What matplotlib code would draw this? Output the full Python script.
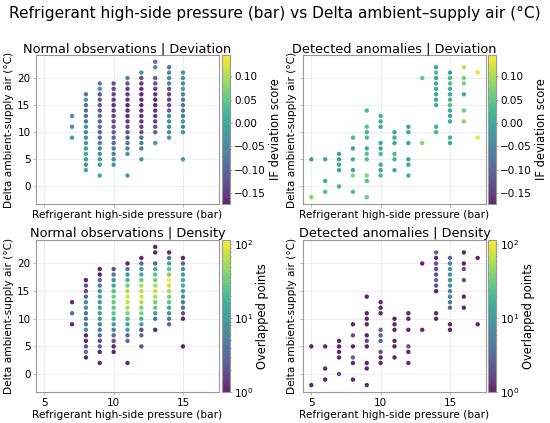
import numpy as np
import matplotlib
matplotlib.use("Agg")
import matplotlib.pyplot as plt
from matplotlib.colors import LogNorm, Normalize
from matplotlib.ticker import MultipleLocator

# ----------------------------
# Data (pressure column -> values, top to bottom)
# ----------------------------
normal_y = {
    7: [13, 11, 9],
    8: [17, 16, 15, 14, 13, 12, 11, 10, 9, 8, 7, 6, 5, 4, 3],
    9: [19, 18, 17, 16, 15, 14, 13, 12, 11, 10, 9, 8, 7, 6, 5, 4, 2],
    10: [19, 18, 17, 16, 15, 14, 13, 12, 11, 10, 9, 8, 7, 6, 5, 4],
    11: [20, 19, 18, 17, 16, 15, 14, 13, 12, 11, 10, 9, 8, 7, 6, 2],
    12: [21, 20, 19, 18, 17, 16, 15, 14, 13, 12, 11, 10, 9, 8, 7, 5],
    13: [23, 22, 20, 19, 18, 17, 16, 15, 14, 13, 12, 11, 10, 8],
    14: [22, 21, 20, 19, 18, 17, 16, 15, 14, 13, 12, 11, 10, 9],
    15: [21, 20, 19, 18, 17, 16, 15, 14, 13, 12, 11, 10, 5],
}
normal_score = {
    7: [-0.03, -0.06, -0.02],
    8: [-0.08, -0.03, -0.08, -0.09, -0.09, -0.07, -0.03, -0.04, -0.03, -0.02, -0.01, 0.0, -0.01, -0.03, 0.0],
    9: [-0.06, -0.03, -0.12, -0.11, -0.11, -0.11, -0.10, -0.10, -0.09, -0.10, -0.09, -0.07, -0.05, -0.03, -0.03, -0.02, 0.0],
    10: [-0.12, -0.13, -0.14, -0.15, -0.16, -0.15, -0.14, -0.13, -0.12, -0.11, -0.10, -0.09, -0.07, -0.05, -0.04, -0.03],
    11: [-0.05, -0.12, -0.14, -0.15, -0.16, -0.17, -0.17, -0.16, -0.15, -0.13, -0.12, -0.11, -0.07, -0.05, -0.03, -0.01],
    12: [-0.03, -0.13, -0.15, -0.16, -0.17, -0.17, -0.17, -0.16, -0.16, -0.15, -0.14, -0.12, -0.09, -0.06, -0.08, -0.04],
    13: [-0.08, -0.04, -0.11, -0.12, -0.14, -0.16, -0.17, -0.17, -0.16, -0.15, -0.14, -0.12, -0.10, -0.02],
    14: [-0.07, -0.05, -0.05, -0.06, -0.11, -0.14, -0.14, -0.13, -0.11, -0.05, -0.03, -0.05, -0.04, -0.03],
    15: [-0.03, -0.03, -0.04, -0.01, -0.06, -0.08, -0.08, -0.08, -0.07, -0.01, -0.05, -0.03, -0.02],
}
normal_count = {
    7: [1, 3, 1],
    8: [1, 2, 2, 3, 7, 7, 4, 4, 4, 6, 1, 1, 2, 4, 1],
    9: [1, 1, 3, 5, 9, 12, 10, 12, 10, 9, 6, 4, 3, 2, 3, 1, 1],
    10: [2, 4, 8, 14, 25, 35, 30, 30, 28, 18, 10, 5, 3, 2, 1, 1],
    11: [1, 4, 9, 18, 35, 60, 80, 65, 60, 40, 22, 12, 10, 3, 3, 1],
    12: [1, 3, 9, 16, 30, 55, 65, 80, 60, 40, 35, 20, 10, 2, 3, 2],
    13: [1, 1, 3, 15, 25, 35, 60, 70, 60, 35, 30, 10, 4, 1],
    14: [1, 3, 10, 25, 35, 110, 70, 55, 35, 25, 12, 9, 4, 3],
    15: [1, 3, 8, 10, 16, 18, 10, 9, 5, 4, 2, 1, 1],
}

anom_y = {
    5: [5, -2],
    6: [5, 1, -1],
    7: [6, 5, 4, 3, 0],
    8: [9, 7, 5, 3, 2, -1],
    9: [14, 11, 10, 9, 7, 6, 5, 2, 1, -2],
    10: [13, 12, 11, 8, 7, 6, 4, 3, 2],
    11: [10, 9, 8, 6, 5, 3],
    12: [11, 10, 8, 5, 4, 2],
    13: [20, 8],
    14: [22, 21, 20, 19, 18, 17, 16, 15, 11, 10],
    15: [21, 20, 19, 18, 17, 16, 15, 14, 13, 12, 9, 8],
    16: [22, 20, 19, 17, 14, 12],
    17: [21, 9],
}
anom_score = {
    5: [-0.02, 0.08],
    6: [-0.01, 0.01, 0.03],
    7: [-0.01, -0.01, -0.01, -0.01, 0.02],
    8: [0.02, -0.01, 0.02, -0.01, 0.08, 0.03],
    9: [0.02, 0.04, 0.02, 0.03, 0.0, 0.04, 0.04, 0.07, 0.04, 0.06],
    10: [0.02, 0.0, 0.0, 0.0, -0.01, 0.03, 0.0, -0.01, 0.03],
    11: [0.0, 0.0, 0.0, 0.03, 0.02, 0.0],
    12: [-0.01, -0.01, 0.0, -0.01, 0.0, 0.02],
    13: [0.05, 0.08],
    14: [-0.01, 0.03, -0.01, 0.0, 0.0, 0.0, -0.01, 0.0, 0.02, 0.02],
    15: [-0.01, 0.03, 0.04, 0.0, 0.01, 0.02, 0.04, 0.0, -0.01, 0.0, 0.02, 0.0],
    16: [0.11, 0.07, 0.07, 0.0, 0.06, 0.08],
    17: [0.13, 0.13],
}
anom_count = {
    5: [1, 1],
    6: [1, 1, 1],
    7: [1, 1, 1, 1, 2],
    8: [1, 2, 1, 3, 1, 1],
    9: [1, 1, 1, 1, 1, 2, 1, 1, 1, 1],
    10: [1, 1, 1, 3, 3, 3, 2, 1, 1],
    11: [1, 1, 1, 1, 1, 1],
    12: [1, 1, 1, 2, 1, 1],
    13: [1, 1],
    14: [3, 1, 2, 2, 2, 3, 2, 1, 1, 1],
    15: [3, 6, 8, 7, 9, 8, 6, 6, 4, 3, 1, 1],
    16: [1, 1, 2, 2, 1, 1],
    17: [1, 1],
}

SCORE_MIN, SCORE_MAX = -0.173, 0.145
COUNT_MAX = 115

XLABEL = "Refrigerant high-side pressure (bar)"
YLABEL = "Delta ambient-supply air (\u00b0C)"
SUPTITLE = "Refrigerant high-side pressure (bar) vs Delta ambient\u2013supply air (\u00b0C)"


def flatten(ys, vals):
    xs, yy, vv = [], [], []
    for x in ys:
        xs += [x] * len(ys[x])
        yy += ys[x]
        vv += vals[x]
    return np.array(xs), np.array(yy), np.array(vv)


# ----------------------------
# Layout (pixel boxes measured on the 550x423 picture)
# ----------------------------
W, H = 550, 423
fig = plt.figure(figsize=(W / 100, H / 100), dpi=100)


def box(x0, x1, y0, y1):
    return [x0 / W, 1 - y1 / H, (x1 - x0) / W, (y1 - y0) / H]


cols = [(36, 219, 222, 230), (303, 486, 488, 496)]
rows = [(55, 204), (240, 392)]
EDGE = "#999999"

score_norm = Normalize(vmin=SCORE_MIN, vmax=SCORE_MAX)
count_norm = LogNorm(vmin=1, vmax=COUNT_MAX)

panels = [
    (0, 0, normal_y, normal_score, score_norm, "Normal observations | Deviation", "IF deviation score"),
    (0, 1, anom_y, anom_score, score_norm, "Detected anomalies | Deviation", "IF deviation score"),
    (1, 0, normal_y, normal_count, count_norm, "Normal observations | Density", "Overlapped points"),
    (1, 1, anom_y, anom_count, count_norm, "Detected anomalies | Density", "Overlapped points"),
]

first = None
for r, c, ys, vals, norm, title, cblabel in panels:
    ax0, ax1, cb0, cb1 = cols[c]
    y0, y1 = rows[r]
    ax = fig.add_axes(box(ax0, ax1, y0, y1), sharex=first, sharey=first)
    if first is None:
        first = ax
    cax = fig.add_axes(box(cb0, cb1, y0, y1))

    x, y, v = flatten(ys, vals)
    sc = ax.scatter(x, y, c=v, cmap="viridis", norm=norm, s=10, alpha=0.85,
                    linewidths=0, zorder=3)
    ax.set_title(title, fontsize=9.3, pad=2)
    ax.set_xlabel(XLABEL, fontsize=7.6, labelpad=1.5)
    ax.set_ylabel(YLABEL, fontsize=7.6, labelpad=2)
    ax.grid(True, color="#ebebeb", linewidth=0.6, zorder=0)
    ax.xaxis.set_major_locator(MultipleLocator(5))
    ax.yaxis.set_major_locator(MultipleLocator(5))
    ax.tick_params(labelsize=7.5, length=2.5, width=0.5, color=EDGE, pad=1.5)
    if r == 0:
        ax.tick_params(labelbottom=False)
    if c == 1:
        ax.tick_params(labelleft=False)
    for s in ax.spines.values():
        s.set_color(EDGE)
        s.set_linewidth(0.8)

    cb = fig.colorbar(sc, cax=cax)
    cb.solids.set_alpha(0.85)
    cb.outline.set_edgecolor(EDGE)
    cb.outline.set_linewidth(0.8)
    cb.ax.tick_params(labelsize=7.5, length=1.5, width=0.5, color=EDGE, pad=1.5, which="both")
    cb.ax.tick_params(which="minor", length=1)
    cb.set_label(cblabel, fontsize=8.3, labelpad=2)

fig.suptitle(SUPTITLE, fontsize=11.1, y=0.987)
fig.savefig("out.png", dpi=100)
